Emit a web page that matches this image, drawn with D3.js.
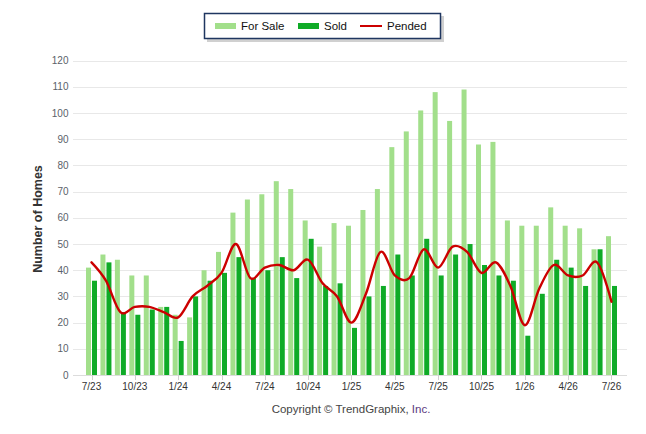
<!DOCTYPE html>
<html>
<head>
<meta charset="utf-8">
<script src="https://cdn.jsdelivr.net/npm/d3@7/dist/d3.min.js"></script>
<style>
  html, body { margin: 0; padding: 0; background: #fff; }
  svg { display: block; font-family: "Liberation Sans", Arial, sans-serif; }
</style>
</head>
<body>
<svg id="chart" width="646" height="434"></svg>
<script>
const months = ["7/23","8/23","9/23","10/23","11/23","12/23","1/24","2/24","3/24","4/24","5/24","6/24",
  "7/24","8/24","9/24","10/24","11/24","12/24","1/25","2/25","3/25","4/25","5/25","6/25",
  "7/25","8/25","9/25","10/25","11/25","12/25","1/26","2/26","3/26","4/26","5/26","6/26","7/26"];
const forSale = [41,46,44,38,38,26,23,22,40,47,62,67,69,74,71,59,49,58,57,63,71,87,93,101,108,97,109,88,89,59,57,57,64,57,56,48,53];
const sold    = [36,43,24,23,25,26,13,30,36,39,45,37,40,45,37,52,34,35,18,30,34,46,38,52,38,46,50,42,38,36,15,31,44,41,34,48,34];
const pended  = [43,36,24,26,26,24,22,30,34,39,50,37,41,42,40,44,35,30,20,31,47,38,37,48,41,49,47,39,43,34,19,33,42,38,38,43,28];
const tickLabels = ["7/23","10/23","1/24","4/24","7/24","10/24","1/25","4/25","7/25","10/25","1/26","4/26","7/26"];
const yTicks = [0,10,20,30,40,50,60,70,80,90,100,110,120];
const seriesNames = ["For Sale","Sold","Pended"];
const colors = {"For Sale":"#a2df8b","Sold":"#0fab27","Pended":"#cc0000"};

const svg = d3.select("#chart");
const plotL = 73, plotR = 627;

const x = d3.scaleBand().domain(months).range([84.28, 618.72]).paddingInner(3.444/14.444).paddingOuter(3.444/14.444/2);
const x1 = d3.scaleBand().domain(["For Sale","Sold"]).range([0, x.bandwidth()]).paddingInner(1/6);
const y = d3.scaleLinear().domain([0,120]).range([375, 60.7]);

// gridlines
svg.append("g").selectAll("line").data(yTicks).join("line")
  .attr("x1", plotL).attr("x2", plotR)
  .attr("y1", d => Math.round(y(d)) + 0.5).attr("y2", d => Math.round(y(d)) + 0.5)
  .attr("stroke", d => d === 0 ? "#dcdcdc" : "#e8e8e8").attr("stroke-width", 1);

// y labels
svg.append("g").selectAll("text").data(yTicks).join("text")
  .attr("x", 68.5).attr("y", d => y(d) + 3.5)
  .attr("text-anchor", "end").attr("font-size", 10).attr("fill", "#5a5f6a")
  .text(d => d);

// x ticks + labels
const xt = svg.append("g");
xt.selectAll("line").data(tickLabels).join("line")
  .attr("x1", d => Math.round(x(d) + x.bandwidth()/2) + 0.5)
  .attr("x2", d => Math.round(x(d) + x.bandwidth()/2) + 0.5)
  .attr("y1", 375).attr("y2", 380).attr("stroke", "#cfcfcf");
xt.selectAll("text").data(tickLabels).join("text")
  .attr("x", d => x(d) + x.bandwidth()/2).attr("y", 390)
  .attr("text-anchor", "middle").attr("font-size", 10).attr("fill", "#333")
  .text(d => d);

// bars
const rows = months.map((m, i) => ({m, "For Sale": forSale[i], "Sold": sold[i]}));
const groups = svg.append("g").selectAll("g").data(rows).join("g")
  .attr("transform", d => `translate(${x(d.m)},0)`);
groups.selectAll("rect").data(d => ["For Sale","Sold"].map(k => ({k, v: d[k]}))).join("rect")
  .attr("x", d => x1(d.k)).attr("width", x1.bandwidth())
  .attr("y", d => y(d.v)).attr("height", d => y(0) - y(d.v))
  .attr("fill", d => colors[d.k]);

// pended line
const line = d3.line()
  .x((d, i) => x(months[i]) + x.bandwidth()/2)
  .y(d => y(d))
  .curve(d3.curveCardinal.tension(0));
svg.append("path").datum(pended)
  .attr("d", line).attr("fill", "none")
  .attr("stroke", colors["Pended"]).attr("stroke-width", 2.4)
  .attr("stroke-linejoin", "round").attr("stroke-linecap", "round");

// y axis title
svg.append("text")
  .attr("transform", "translate(41.5,219) rotate(-90)")
  .attr("text-anchor", "middle").attr("font-size", 12.5).attr("font-weight", "bold")
  .attr("fill", "#333").text("Number of Homes");

// legend
const lg = svg.append("g");
lg.append("rect").attr("x", 207).attr("y", 16).attr("width", 237).attr("height", 26).attr("fill", "#b0b0b0").attr("opacity", 0.6);
lg.append("rect").attr("x", 204.5).attr("y", 13.5).attr("width", 236).attr("height", 25)
  .attr("fill", "#fff").attr("stroke", "#1f3660").attr("stroke-width", 1.5);
const legItems = [
  {name: "For Sale", sx: 215, tx: 241},
  {name: "Sold", sx: 298, tx: 324},
  {name: "Pended", sx: 360, tx: 387}
];
legItems.forEach(it => {
  if (it.name === "Pended") {
    lg.append("line").attr("x1", it.sx).attr("x2", it.sx + 22).attr("y1", 26).attr("y2", 26)
      .attr("stroke", colors[it.name]).attr("stroke-width", 2);
  } else {
    lg.append("rect").attr("x", it.sx).attr("y", 23).attr("width", 21).attr("height", 6)
      .attr("fill", colors[it.name]);
  }
  lg.append("text").attr("x", it.tx).attr("y", 30).attr("font-size", 11.5).attr("fill", "#111").text(it.name);
});

// copyright
const ct = svg.append("text").attr("x", 351).attr("y", 413).attr("text-anchor", "middle")
  .attr("font-size", 11.5).attr("fill", "#444");
ct.append("tspan").text("Copyright © TrendGraphix, ");
ct.append("tspan").attr("fill", "#5b3a80").text("Inc.");
</script>
</body>
</html>
